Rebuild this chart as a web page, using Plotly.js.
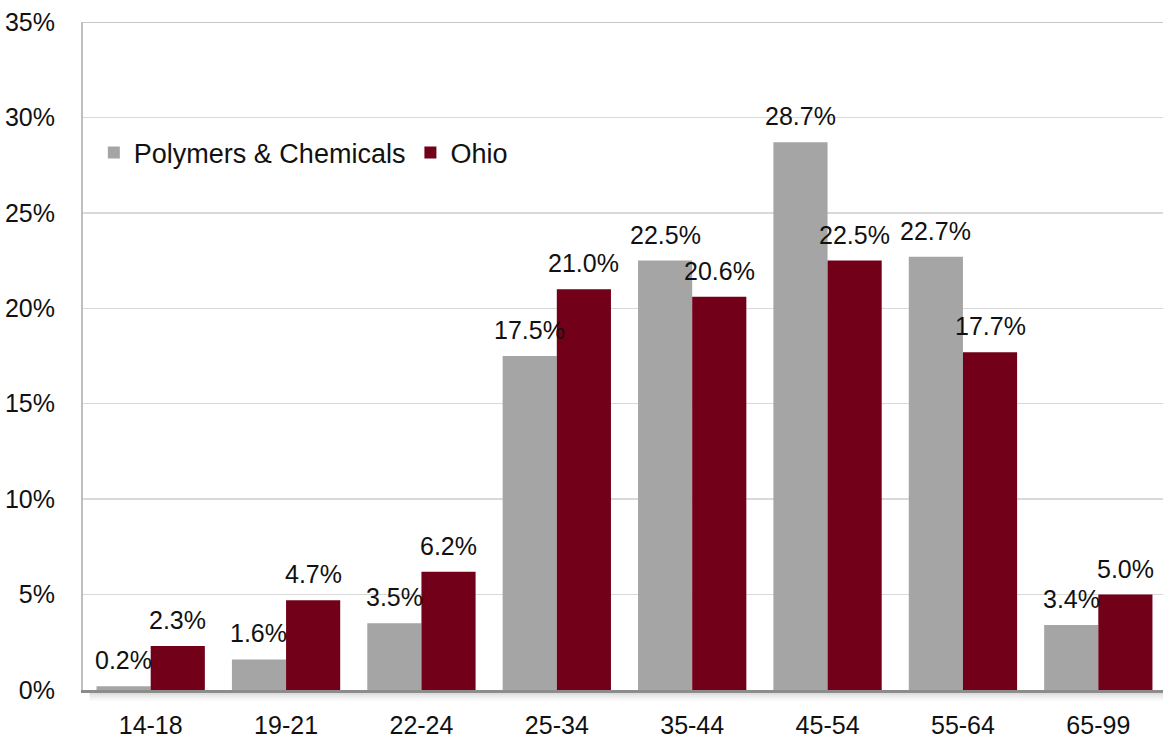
<!DOCTYPE html>
<html>
<head>
<meta charset="utf-8">
<script src="https://cdn.plot.ly/plotly-3.0.1.min.js"></script>
<style>
  html, body { margin: 0; padding: 0; background: #ffffff; overflow: hidden; }
  #chart { width: 1166px; height: 738px; }
</style>
</head>
<body>
<div id="chart"></div>
<script>
// Age groups and share of workers in each group (percent)
const ageGroups = ['14-18', '19-21', '22-24', '25-34', '35-44', '45-54', '55-64', '65-99'];
const polymersChemicals = [0.2, 1.6, 3.5, 17.5, 22.5, 28.7, 22.7, 3.4];
const ohio = [2.3, 4.7, 6.2, 21.0, 20.6, 22.5, 17.7, 5.0];
const seriesNames = ['Polymers & Chemicals', 'Ohio'];
const yTicks = [0, 5, 10, 15, 20, 25, 30, 35];

const GRAY = '#a5a5a5';
const MAROON = '#720019';
const FONT = 'Liberation Sans, Arial, sans-serif';
const TEXT = '#111111';

const traces = [
  { type: 'bar', name: seriesNames[0], x: ageGroups, y: polymersChemicals,
    marker: { color: GRAY }, hoverinfo: 'skip' },
  { type: 'bar', name: seriesNames[1], x: ageGroups, y: ohio,
    marker: { color: MAROON }, hoverinfo: 'skip' }
];

// Value labels sit above each bar; the group holds two bars, each 0.4 of a category wide
const barGap = 0.2;
const halfOffset = (1 - barGap) / 4;
const annotations = [];
[polymersChemicals, ohio].forEach((vals, s) => {
  vals.forEach((v, i) => {
    annotations.push({
      x: i + (s === 0 ? -halfOffset : halfOffset), y: v,
      xref: 'x', yref: 'y',
      text: v.toFixed(1) + '%',
      showarrow: false,
      yanchor: 'bottom', xanchor: 'center',
      yshift: 10,
      font: { family: FONT, size: 25, color: TEXT }
    });
  });
});

// Top frame line at the 35% level
const shapes = [{
  type: 'line', xref: 'paper', yref: 'y', x0: 0, x1: 1, y0: 35, y1: 35,
  line: { color: '#c8c8c8', width: 2 }, layer: 'below'
}];

// Soft shadow beneath the category axis line
const shadowAlpha = [0.28, 0.2, 0.13, 0.08, 0.04];
shadowAlpha.forEach((a, k) => {
  shapes.push({
    type: 'rect', xref: 'paper', yref: 'paper',
    x0: 0.006, x1: 1,
    ysizemode: 'pixel', yanchor: 0,
    y0: -1 - k * 2, y1: -3 - k * 2,
    line: { width: 0 }, fillcolor: 'rgba(90,90,90,' + a + ')',
    layer: 'below'
  });
});

const layout = {
  width: 1166, height: 738,
  margin: { l: 83, r: 0, t: 22, b: 48 },
  paper_bgcolor: '#ffffff', plot_bgcolor: '#ffffff',
  font: { family: FONT, size: 25, color: TEXT },
  barmode: 'group', bargap: barGap, bargroupgap: 0,
  showlegend: true,
  legend: {
    orientation: 'h', x: 0.01, xanchor: 'left', y: 0.804, yanchor: 'middle',
    font: { family: FONT, size: 27, color: TEXT },
    bgcolor: 'rgba(0,0,0,0)', traceorder: 'normal'
  },
  xaxis: {
    type: 'category', showgrid: false, zeroline: false,
    showline: true, linecolor: '#8c8c8c', linewidth: 2.5,
    ticks: '', ticklabelstandoff: 11,
    tickfont: { family: FONT, size: 25, color: TEXT },
    fixedrange: true
  },
  yaxis: {
    range: [0, 35], tickvals: yTicks, ticktext: yTicks.map(t => t + '%'),
    showgrid: true, gridcolor: '#d9d9d9', gridwidth: 1.5,
    zeroline: false, showline: true, linecolor: '#bfbfbf', linewidth: 2,
    ticks: '', ticklabelstandoff: 21,
    tickfont: { family: FONT, size: 25, color: TEXT },
    fixedrange: true
  },
  annotations: annotations,
  shapes: shapes
};

Plotly.newPlot('chart', traces, layout, { displayModeBar: false, staticPlot: true });
</script>
</body>
</html>
